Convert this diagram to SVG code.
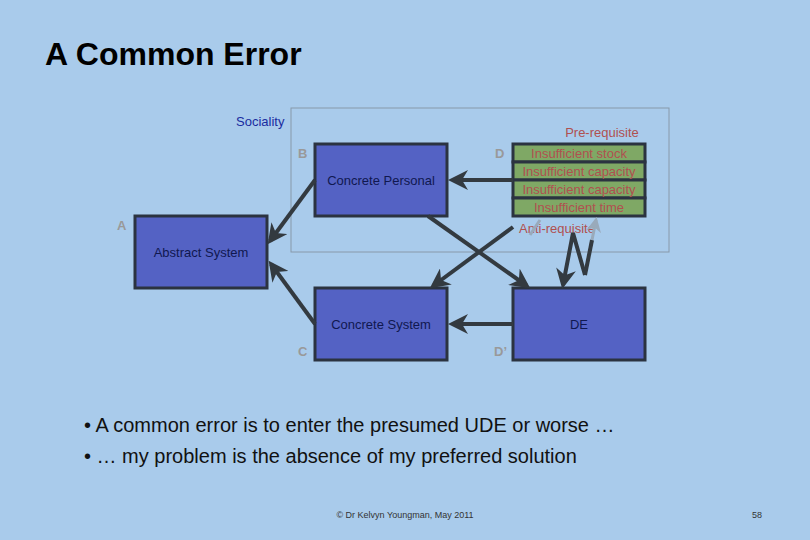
<svg xmlns="http://www.w3.org/2000/svg" width="810" height="540" viewBox="0 0 810 540">
<style>
.n{fill:#5462c4;stroke:#2b3340;stroke-width:3}
.g{fill:#7fa865;stroke:#2b3340;stroke-width:3}
.t{font-family:"Liberation Sans",Arial,sans-serif;font-size:13px;fill:#101850;text-anchor:middle}
.l{font-family:"Liberation Sans",Arial,sans-serif;font-size:13px;fill:#999;font-weight:bold}
.r{font-family:"Liberation Sans",Arial,sans-serif;font-size:13px;fill:#b05050;text-anchor:middle}
.c{stroke:#333a40;stroke-width:4;fill:none}
</style>
<defs><marker id="a" markerWidth="5" markerHeight="5" refX="4" refY="2.5" orient="auto"><path d="M0,0L5,2.5L0,5L1.5,2.5Z" fill="#333a40"/></marker>
<marker id="ga" markerWidth="5" markerHeight="5" refX="4" refY="2.5" orient="auto"><path d="M0,0L5,2.5L0,5L1.5,2.5Z" fill="#9ab"/></marker></defs>
<rect width="810" height="540" fill="#a9cbeb"/>
<text x="45" y="65" font-family="Liberation Sans,Arial,sans-serif" font-size="32" font-weight="bold" fill="#000">A Common Error</text>
<rect x="291" y="108" width="378" height="144" fill="none" stroke="#8899aa" stroke-width="1"/>
<text x="236" y="126" font-family="Liberation Sans,Arial,sans-serif" font-size="13" fill="#1a2ca0">Sociality</text>
<g id="cp"><rect class="n" x="315" y="144" width="132" height="72"/><text class="t" x="381" y="185">Concrete Personal</text><text class="l" x="298" y="158">B</text></g>
<g id="as"><rect class="n" x="135" y="216" width="132" height="72"/><text class="t" x="201" y="257">Abstract System</text><text class="l" x="117" y="230">A</text></g>
<g id="cs"><rect class="n" x="315" y="288" width="132" height="72"/><text class="t" x="381" y="329">Concrete System</text><text class="l" x="298" y="356">C</text></g>
<g id="de"><rect class="n" x="513" y="288" width="132" height="72"/><text class="t" x="579" y="329">DE</text><text class="l" x="494" y="356">D’</text></g>
<g id="d"><text class="l" x="495" y="158">D</text><text class="r" x="602" y="137">Pre-requisite</text>
<rect class="g" x="513" y="144" width="132" height="18"/><rect class="g" x="513" y="162" width="132" height="18"/><rect class="g" x="513" y="180" width="132" height="18"/><rect class="g" x="513" y="198" width="132" height="18"/>
<text class="r" x="579" y="158">Insufficient stock</text><text class="r" x="579" y="176">Insufficient capacity</text><text class="r" x="579" y="194">Insufficient capacity</text><text class="r" x="579" y="212">Insufficient time</text>
<text class="r" x="557" y="233">Anti-requisite</text></g>
<g id="connectors">
<line class="c" x1="513" y1="180" x2="452" y2="180" marker-end="url(#a)"/>
<line class="c" x1="513" y1="324" x2="452" y2="324" marker-end="url(#a)"/>
<line class="c" x1="428" y1="216" x2="527" y2="286" marker-end="url(#a)"/>
<line class="c" x1="513" y1="227" x2="433" y2="286" marker-end="url(#a)"/>
<line class="c" x1="315" y1="180" x2="270" y2="241" marker-end="url(#a)"/>
<line class="c" x1="315" y1="324" x2="271" y2="264" marker-end="url(#a)"/>
<polyline class="c" points="585,275 573,233 563,285" marker-end="url(#a)"/>
<line class="c" x1="585" y1="275" x2="592" y2="240"/>
<line stroke="#9ab" stroke-width="3" x1="592" y1="240" x2="596" y2="220" marker-end="url(#ga)"/>
<line stroke="#9ab" stroke-width="3" x1="530" y1="235" x2="540" y2="220"/>
</g>
<g font-family="Liberation Sans,Arial,sans-serif" font-size="20" fill="#111">
<text x="84" y="432">• A common error is to enter the presumed UDE or worse …</text>
<text x="84" y="463">• … my problem is the absence of my preferred solution</text></g>
<text x="405" y="518" text-anchor="middle" font-family="Liberation Sans,Arial,sans-serif" font-size="9" fill="#333">© Dr Kelvyn Youngman, May 2011</text>
<text x="762" y="518" text-anchor="end" font-family="Liberation Sans,Arial,sans-serif" font-size="9" fill="#333">58</text>
</svg>
